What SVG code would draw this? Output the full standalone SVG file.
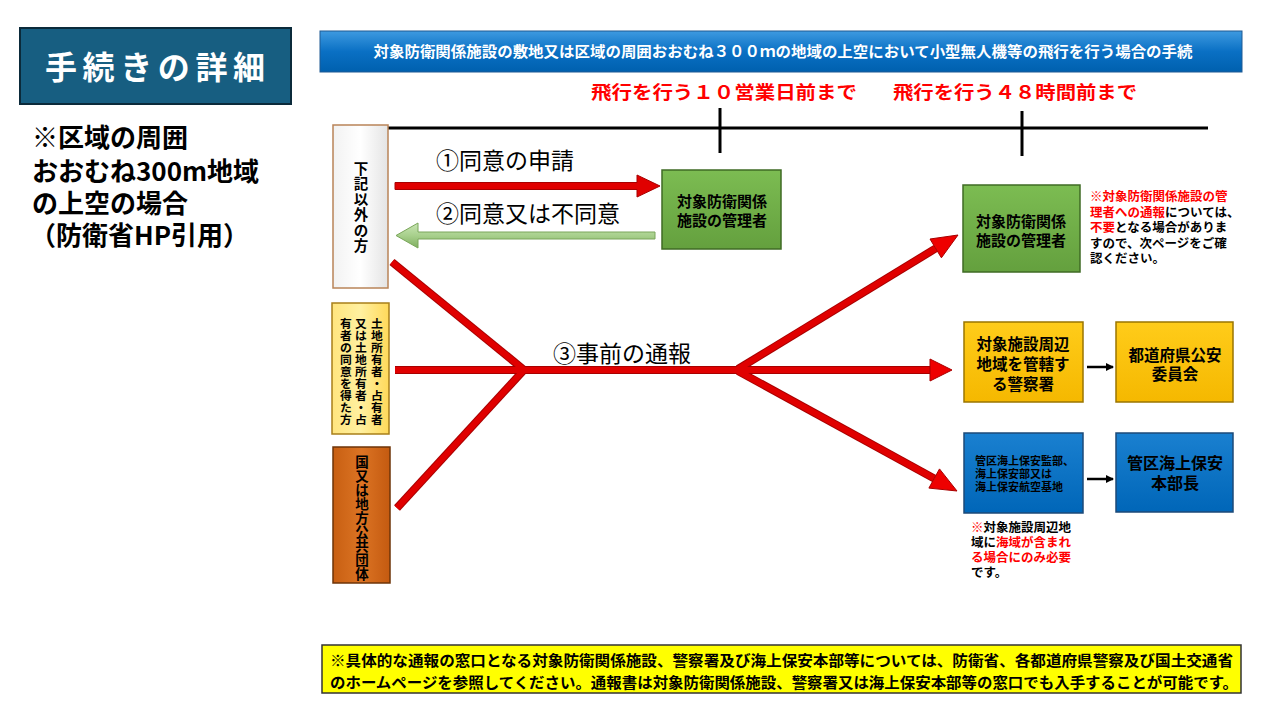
<svg xmlns="http://www.w3.org/2000/svg" width="1280" height="720" viewBox="0 0 1280 720">
<defs>
<linearGradient id="gBlueHdr" x1="0" y1="0" x2="0" y2="1"><stop offset="0" stop-color="#3e9ae0"/><stop offset="0.5" stop-color="#0a70c4"/><stop offset="1" stop-color="#0060ae"/></linearGradient>
<linearGradient id="gGreen" x1="0" y1="0" x2="0" y2="1"><stop offset="0" stop-color="#7cbc52"/><stop offset="1" stop-color="#64a03e"/></linearGradient>
<linearGradient id="gYellow" x1="0" y1="0" x2="0" y2="1"><stop offset="0" stop-color="#ffcc1a"/><stop offset="1" stop-color="#f5b800"/></linearGradient>
<linearGradient id="gBlue" x1="0" y1="0" x2="0" y2="1"><stop offset="0" stop-color="#1a80d0"/><stop offset="1" stop-color="#0066b8"/></linearGradient>
<linearGradient id="gWhite" x1="0" y1="0" x2="1" y2="0"><stop offset="0" stop-color="#f2f2f2"/><stop offset="0.5" stop-color="#ffffff"/><stop offset="1" stop-color="#e4e4e4"/></linearGradient>
<linearGradient id="gLand" x1="0" y1="0" x2="1" y2="0"><stop offset="0" stop-color="#ffe57f"/><stop offset="0.5" stop-color="#fff0a0"/><stop offset="1" stop-color="#ffd95a"/></linearGradient>
<linearGradient id="gOrange" x1="0" y1="0" x2="1" y2="0"><stop offset="0" stop-color="#c85f12"/><stop offset="0.5" stop-color="#dc7424"/><stop offset="1" stop-color="#c45a10"/></linearGradient>
<linearGradient id="gLightGreen" x1="0" y1="0" x2="0" y2="1"><stop offset="0" stop-color="#c9e5b5"/><stop offset="0.5" stop-color="#a8d08c"/><stop offset="1" stop-color="#7fae60"/></linearGradient>
<marker id="blk" markerWidth="8" markerHeight="8" refX="7" refY="4" orient="auto" markerUnits="userSpaceOnUse"><path d="M0,0 L8,4 L0,8 Z" fill="#000"/></marker>
</defs>
<style>
text{font-family:"Noto Sans CJK JP","Noto Sans",sans-serif;}
.b{font-weight:bold;}
.box{stroke-width:1.5;}
.redline{stroke:#e00000;stroke-width:6;fill:none;}
.redunder{stroke:#a80000;stroke-width:8;fill:none;}
.redhead{fill:#ee0000;stroke:#a80000;stroke-width:1;}
</style>
<rect width="1280" height="720" fill="#ffffff"/>

<g id="title">
<rect x="20" y="28" width="271" height="76" fill="#175e81" stroke="#0b2a3a" stroke-width="2"/>
<text x="155" y="79" font-size="32" fill="#ffffff" text-anchor="middle" class="b" textLength="220" lengthAdjust="spacing">手続きの詳細</text>
</g>

<g id="side-note" fill="#000">
<text x="32" y="147" font-size="26" class="b">※区域の周囲</text>
<text x="32" y="181" font-size="26" class="b">おおむね300m地域</text>
<text x="32" y="213" font-size="26" class="b">の上空の場合</text>
<text x="30" y="245" font-size="26" class="b">（防衛省HP引用）</text>
</g>

<g id="header">
<rect x="320" y="31" width="922" height="41" fill="url(#gBlueHdr)" stroke="#1f5a94" stroke-width="1"/>
<text x="783" y="57" font-size="15" fill="#ffffff" text-anchor="middle" class="b" textLength="819" lengthAdjust="spacingAndGlyphs">対象防衛関係施設の敷地又は区域の周囲おおむね３００ｍの地域の上空において小型無人機等の飛行を行う場合の手続</text>
</g>

<g id="timeline">
<text x="591" y="99" font-size="18" fill="#ff0000" class="b" textLength="266" lengthAdjust="spacingAndGlyphs">飛行を行う１０営業日前まで</text>
<text x="893" y="99" font-size="18" fill="#ff0000" class="b" textLength="244" lengthAdjust="spacingAndGlyphs">飛行を行う４８時間前まで</text>
<line x1="388" y1="128" x2="1208" y2="128" stroke="#000" stroke-width="3"/>
<line x1="720" y1="108" x2="720" y2="153" stroke="#000" stroke-width="3"/>
<line x1="1022" y1="111" x2="1022" y2="156" stroke="#000" stroke-width="3"/>
</g>

<g id="node-other">
<rect x="333" y="125" width="55" height="163" fill="url(#gWhite)" stroke="#b98458" class="box"/>
<text font-size="14.5" class="b" text-anchor="middle" fill="#000"><tspan x="361" y="173.5">下</tspan><tspan x="361" y="189">記</tspan><tspan x="361" y="204.5">以</tspan><tspan x="361" y="220">外</tspan><tspan x="361" y="235.5">の</tspan><tspan x="361" y="251">方</tspan></text>
</g>

<g id="node-land">
<rect x="332" y="303" width="57" height="131" fill="url(#gLand)" stroke="#a87f1a" class="box"/>
<text font-size="11.8" class="b" text-anchor="middle" fill="#000"><tspan x="377" y="327.5">土</tspan><tspan x="377" y="339.6">地</tspan><tspan x="377" y="351.7">所</tspan><tspan x="377" y="363.8">有</tspan><tspan x="377" y="375.9">者</tspan><tspan x="377" y="388">・</tspan><tspan x="377" y="400.1">占</tspan><tspan x="377" y="412.2">有</tspan><tspan x="377" y="424.3">者</tspan></text>
<text font-size="11.8" class="b" text-anchor="middle" fill="#000"><tspan x="361" y="327.5">又</tspan><tspan x="361" y="339.6">は</tspan><tspan x="361" y="351.7">土</tspan><tspan x="361" y="363.8">地</tspan><tspan x="361" y="375.9">所</tspan><tspan x="361" y="388">有</tspan><tspan x="361" y="400.1">者</tspan><tspan x="361" y="412.2">・</tspan><tspan x="361" y="424.3">占</tspan></text>
<text font-size="11.8" class="b" text-anchor="middle" fill="#000"><tspan x="346" y="327.5">有</tspan><tspan x="346" y="339.6">者</tspan><tspan x="346" y="351.7">の</tspan><tspan x="346" y="363.8">同</tspan><tspan x="346" y="375.9">意</tspan><tspan x="346" y="388">を</tspan><tspan x="346" y="400.1">得</tspan><tspan x="346" y="412.2">た</tspan><tspan x="346" y="424.3">方</tspan></text>
</g>

<g id="node-gov">
<rect x="333" y="447" width="57" height="136" fill="url(#gOrange)" stroke="#6e3408" class="box"/>
<text font-size="13.5" class="b" text-anchor="middle" fill="#000"><tspan x="362" y="467">国</tspan><tspan x="362" y="481">又</tspan><tspan x="362" y="495">は</tspan><tspan x="362" y="509">地</tspan><tspan x="362" y="523">方</tspan><tspan x="362" y="537">公</tspan><tspan x="362" y="551">共</tspan><tspan x="362" y="565">団</tspan><tspan x="362" y="579">体</tspan></text>
</g>

<g id="node-manager1">
<rect x="662" y="170" width="119" height="79" fill="url(#gGreen)" stroke="#3f6b25" class="box"/>
<text x="722" y="207" font-size="15" class="b" text-anchor="middle" fill="#000">対象防衛関係</text>
<text x="722" y="226" font-size="15" class="b" text-anchor="middle" fill="#000">施設の管理者</text>
</g>

<g id="node-manager2">
<rect x="963" y="185" width="117" height="87" fill="url(#gGreen)" stroke="#3f6b25" class="box"/>
<text x="1021" y="227" font-size="15" class="b" text-anchor="middle" fill="#000">対象防衛関係</text>
<text x="1021" y="246" font-size="15" class="b" text-anchor="middle" fill="#000">施設の管理者</text>
</g>

<g id="note-manager" font-size="12.5">
<text x="1090" y="201" class="b"><tspan fill="#ff0000">※対象防衛関係施設の管</tspan></text>
<text x="1090" y="217" class="b"><tspan fill="#ff0000">理者への通報</tspan><tspan fill="#000">については、</tspan></text>
<text x="1090" y="232" class="b"><tspan fill="#ff0000">不要</tspan><tspan fill="#000">となる場合がありま</tspan></text>
<text x="1090" y="248" class="b" fill="#000">すので、次ページをご確</text>
<text x="1090" y="263" class="b" fill="#000">認ください。</text>
</g>

<g id="node-police">
<rect x="964" y="322" width="119" height="80" fill="url(#gYellow)" stroke="#9a7500" class="box"/>
<text x="1023" y="350" font-size="15.5" class="b" text-anchor="middle" fill="#000">対象施設周辺</text>
<text x="1023" y="370" font-size="15.5" class="b" text-anchor="middle" fill="#000">地域を管轄す</text>
<text x="1023" y="390" font-size="15.5" class="b" text-anchor="middle" fill="#000">る警察署</text>
</g>

<g id="node-commission">
<rect x="1116" y="322" width="117" height="80" fill="url(#gYellow)" stroke="#9a7500" class="box"/>
<text x="1175" y="361" font-size="15.5" class="b" text-anchor="middle" fill="#000">都道府県公安</text>
<text x="1175" y="380" font-size="15.5" class="b" text-anchor="middle" fill="#000">委員会</text>
</g>

<g id="node-coastguard">
<rect x="964" y="433" width="119" height="80" fill="url(#gBlue)" stroke="#1c4a78" class="box"/>
<text x="975" y="465" font-size="11" class="b" fill="#000">管区海上保安監部、</text>
<text x="975" y="478" font-size="11" class="b" fill="#000">海上保安部又は</text>
<text x="975" y="491" font-size="11" class="b" fill="#000">海上保安航空基地</text>
</g>

<g id="node-coastguard-hq">
<rect x="1116" y="433" width="117" height="79" fill="url(#gBlue)" stroke="#1c4a78" class="box"/>
<text x="1175" y="469" font-size="16" class="b" text-anchor="middle" fill="#000">管区海上保安</text>
<text x="1175" y="489" font-size="16" class="b" text-anchor="middle" fill="#000">本部長</text>
</g>

<g id="note-coast" font-size="12.5">
<text x="971" y="532" class="b"><tspan fill="#ff0000">※</tspan><tspan fill="#000">対象施設周辺地</tspan></text>
<text x="971" y="547" class="b"><tspan fill="#000">域に</tspan><tspan fill="#ff0000">海域が含まれ</tspan></text>
<text x="971" y="562" class="b" fill="#ff0000">る場合にのみ必要</text>
<text x="971" y="577" class="b" fill="#000">です。</text>
</g>

<g id="connectors">
<polygon points="395,182.5 637,182.5 637,175 660,186 637,197 637,189.5 395,189.5" fill="#e00000" stroke="#a80000" stroke-width="1"/>
<text x="436" y="169" font-size="23" fill="#000">①同意の申請</text>
<polygon points="655,232 418,232 418,223 396,235.5 418,248 418,239 655,239" fill="url(#gLightGreen)" stroke="#7aa65a" stroke-width="1"/>
<text x="436" y="222" font-size="23" fill="#000">②同意又は不同意</text>
<polyline class="redunder" points="392,262 523,369"/>
<polyline class="redunder" points="397,508 523,371"/>
<polyline class="redunder" points="395,370 738,370"/>
<polyline class="redunder" points="738,369 935.7,248.4"/>
<polyline class="redunder" points="738,370 930,370"/>
<polyline class="redunder" points="738,371 934.2,478.5"/>
<polyline class="redline" points="392,262 523,369"/>
<polyline class="redline" points="397,508 523,371"/>
<polyline class="redline" points="395,370 738,370"/>
<polyline class="redline" points="738,369 935.7,248.4"/>
<polyline class="redline" points="738,370 930,370"/>
<polyline class="redline" points="738,371 934.2,478.5"/>
<polygon class="redhead" points="958,235 941.4,257.8 930,239"/>
<polygon class="redhead" points="952,370 930,359 930,381"/>
<polygon class="redhead" points="957,491 928.9,488.1 939.5,468.9"/>
<text x="553" y="362" font-size="23" fill="#000">③事前の通報</text>
<line x1="1087" y1="367" x2="1113" y2="367" stroke="#000" stroke-width="2.5" marker-end="url(#blk)"/>
<line x1="1087" y1="479" x2="1113" y2="479" stroke="#000" stroke-width="2.5" marker-end="url(#blk)"/>
</g>

<g id="footer">
<rect x="322" y="645" width="919" height="48" fill="#ffff00" stroke="#333333" stroke-width="1.5"/>
<text x="330" y="666" font-size="15" class="b" fill="#000" textLength="903" lengthAdjust="spacingAndGlyphs">※具体的な通報の窓口となる対象防衛関係施設、警察署及び海上保安本部等については、防衛省、各都道府県警察及び国土交通省</text>
<text x="330" y="688" font-size="15" class="b" fill="#000" textLength="908" lengthAdjust="spacingAndGlyphs">のホームページを参照してください。通報書は対象防衛関係施設、警察署又は海上保安本部等の窓口でも入手することが可能です。</text>
</g>
</svg>
